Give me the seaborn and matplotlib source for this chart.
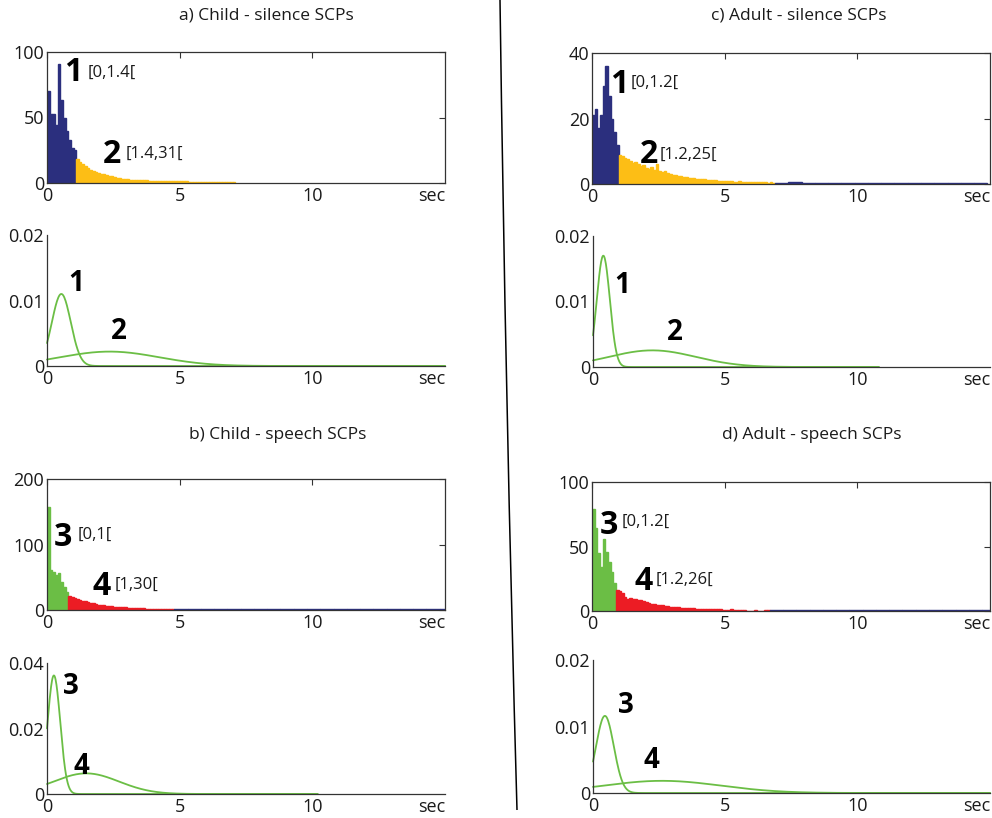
import numpy as np
import pandas as pd
import matplotlib.pyplot as plt
from matplotlib.path import Path
from matplotlib.patches import PathPatch
from matplotlib.ticker import FuncFormatter
import seaborn as sns

sns.set_style('white')
plt.rcParams['font.family'] = ['Open Sans', 'DejaVu Sans']

# === histogram data (counts per 0.1 s bin, tails per 0.5 s bin) ===
BIN = 0.1
TAIL_BIN = 0.5

# a) child silence
a_short = [70, 53, 53, 44, 91, 63, 50, 40, 33, 27, 25]           # 0 .. 1.1
a_long = [18, 16, 14.5, 13, 11.5, 10, 9, 8.5, 7.5, 7,             # 1.1 ..
          6.5, 6, 5.5, 5, 4.5, 4, 3.7, 3.4, 3.1, 2.8,
          2.6, 2.5, 2.4, 2.3, 2.2, 2.1, 2, 1.9, 1.9, 1.8,
          1.7, 1.7, 1.6, 1.6, 1.5, 1.5, 1.4, 1.4, 1.3, 1.3,
          1.2, 1.2, 1.1, 1.1, 1, 1, 1, 0.9, 0.9, 0.8,
          0.8, 0.8, 0.7, 0.7, 0.7, 0.6, 0.6, 0.6, 0.5, 0.5]
a_tail = []

# c) adult silence
c_short = [21, 23, 17, 21, 30, 36, 27, 20, 16, 12]               # 0 .. 1.0
c_long = [9, 8.6, 8, 7.6, 7, 6.5, 6.8, 6, 5.6, 5.8,               # 1.0 ..
          5, 4.6, 5.2, 4.3, 6.0, 4, 3.7, 3.9, 3.4, 3.1,
          2.7, 2.6, 2.5, 2.3, 2.1, 2.0, 1.9, 1.8, 1.7, 1.6,
          1.5, 1.5, 1.4, 1.3, 1.2, 1.1, 1.1, 1.0, 0.9, 0.9,
          0.8, 0.8, 0.9, 0.7, 0.7, 0.8, 0.6, 0.6, 0.7, 0.6,
          0.6, 0.5, 0.6, 0.5, 0.5, 0.6, 0.4, 0.5, 0.4]
c_tail = [0.3, 0.5, 0.4, 0.3, 0.3, 0.2, 0.3, 0.2,                # 6.9 ..
          0.2, 0.2, 0.3, 0.2, 0.2, 0.2, 0.2, 0.2]

# b) child speech
b_short = [158, 61, 58, 53, 57, 42, 35, 28]                      # 0 .. 0.8
b_long = [22, 20, 19, 17, 15, 14, 13, 12, 11, 10,                 # 0.8 ..
          9, 8, 7.5, 7, 6.5, 6, 5.5, 5, 4.8, 4.5,
          4.2, 4, 3.8, 3.5, 3.3, 3, 2.8, 2.6, 2.4, 2.2,
          2, 1.9, 1.8, 1.6, 1.5, 1.4, 1.3, 1.2, 1.1, 1]
b_tail = [1.6, 1.8, 1.5, 1.7, 1.5, 1.4, 1.4, 1.4, 1.3, 1.3,      # 4.8 ..
          1.3, 1.3, 1.3, 1.2, 1.2, 1.2, 1.2, 1.2, 1.2, 1.2, 1.2]

# d) adult speech
d_short = [79, 64, 45, 34, 56, 46, 38, 30, 22]                   # 0 .. 0.9
d_long = [16, 15.5, 14, 11, 9.5, 10, 9, 9.2, 8.6, 8.3,            # 0.9 ..
          7.5, 7, 6.5, 5.8, 5.5, 5, 4.6, 4.4, 4, 3.7,
          3.4, 3.2, 3, 2.8, 2.7, 2.5, 2.4, 2.3, 2.2, 2,
          1.9, 1.8, 1.8, 1.7, 1.6, 1.5, 1.4, 1.3, 1.3, 1.2,
          1.1, 1, 0.8, 1.2, 0.6, 0.9, 0.5, 0.4, 0.8, 0.3,
          0.3, 0.2, 0.8, 0.2, 0.2, 0.3, 0.7, 0.8]
d_tail = [0.6, 0.6, 0.5, 0.5, 0.5, 0.5, 0.5, 0.5, 0.5,            # 6.7 ..
          0.5, 0.5, 0.5, 0.5, 0.5, 0.5, 0.5, 0.5]

# === fitted gaussians: peak height, mean (s), sd (s) ===
a_peak, a_mean, a_sd, a_xmax = [0.011, 0.0022], [0.54, 2.36], [0.357, 1.87], 15
c_peak, c_mean, c_sd, c_xmax = [0.0170, 0.00254], [0.39, 2.24], [0.246, 1.65], 10.8
b_peak, b_mean, b_sd, b_xmax = [0.0362, 0.0063], [0.26, 1.48], [0.239, 1.23], 10.2
d_peak, d_mean, d_sd, d_xmax = [0.0116, 0.00183], [0.45, 2.61], [0.336, 2.22], 15

NAVY = '#2b2f7e'
YELLOW = '#fdbe15'
GREEN = '#6bbe45'
RED = '#ec1c24'
SPINE = '#333333'
FS = 13

fig = plt.figure(figsize=(9.92, 8.18), dpi=100)
W, H = 992, 818


def add_ax(x0, y0, x1, y1):
    return fig.add_axes([x0 / W, 1 - y1 / H, (x1 - x0) / W, (y1 - y0) / H])


def style_ax(ax, yticks, box):
    ax.set_xlim(0, 15)
    ax.set_ylim(yticks[0], yticks[-1])
    ax.set_xticks([0, 5, 10, 15])
    ax.set_xticklabels(['0', '5', '10', 'sec'])
    ax.set_yticks(yticks)
    ax.yaxis.set_major_formatter(FuncFormatter(lambda v, p: '%g' % v))
    ax.set_xlabel('')
    ax.set_ylabel('')
    for s in ax.spines.values():
        s.set_color(SPINE)
        s.set_linewidth(0.9)
    if not box:
        ax.spines['top'].set_visible(False)
        ax.spines['right'].set_visible(False)
    ax.tick_params(direction='in', length=4, width=0.8, color=SPINE,
                   labelsize=FS, labelcolor='#1a1a1a', pad=2,
                   top=box, right=box)
    ax.tick_params(axis='x', pad=3)
    lab = ax.get_xticklabels()[-1]
    lab.set_ha('right')
    t = ax.xaxis.get_major_ticks()[-1]
    t.tick1line.set_visible(False)
    t.tick2line.set_visible(False)


def bars(ax, start, width, heights, color):
    if not heights:
        return
    edges = start + width * np.arange(len(heights) + 1)
    df = pd.DataFrame({'t': (edges[:-1] + edges[1:]) / 2,
                       'n': np.asarray(heights, dtype=float)})
    sns.histplot(data=df, x='t', weights='n', bins=edges.tolist(),
                 color=color, alpha=1, edgecolor=color, linewidth=1.0,
                 ax=ax)


def hist_panel(box, short, long, tail, c_short, c_long, yticks, labels):
    ax = add_ax(*box)
    n1 = len(short)
    bars(ax, 0.0, BIN, short, c_short)
    bars(ax, n1 * BIN, BIN, long, c_long)
    bars(ax, (n1 + len(long)) * BIN, TAIL_BIN, tail, NAVY)
    style_ax(ax, yticks, True)
    for num, nx, ny, interval, ix, iy in labels:
        ax.text(nx, ny, num, fontsize=23, fontweight='bold',
                ha='center', va='center', color='black')
        ax.text(ix, iy, interval, fontsize=12, ha='left', va='center',
                color='#1a1a1a')
    return ax


def gauss_panel(box, peaks, means, sds, xmax, yticks, labels):
    ax = add_ax(*box)
    xs = np.linspace(0, xmax, 600)
    for pk, mu, sd in zip(peaks, means, sds):
        ys = pk * np.exp(-(xs - mu) ** 2 / (2 * sd ** 2))
        sns.lineplot(x=xs, y=ys, color=GREEN, linewidth=1.3, ax=ax)
    for ln in ax.lines:
        ln.set_clip_on(False)
    style_ax(ax, yticks, False)
    for num, nx, ny in labels:
        ax.text(nx, ny, num, fontsize=20, fontweight='bold',
                ha='center', va='center', color='black')
    return ax


# left column: child
hist_panel((47, 52, 445, 183), a_short, a_long, a_tail, NAVY, YELLOW,
           [0, 50, 100],
           [('1', 0.97, 84, '[0,1.4[', 1.52, 84),
            ('2', 2.45, 22, '[1.4,31[', 2.98, 22)])
gauss_panel((47, 235, 445, 366), a_peak, a_mean, a_sd, a_xmax,
            [0, 0.01, 0.02], [('1', 1.1, 0.0126), ('2', 2.72, 0.0052)])
hist_panel((47, 479, 445, 610), b_short, b_long, b_tail, GREEN, RED,
           [0, 100, 200],
           [('3', 0.6, 111, '[0,1[', 1.17, 114),
            ('4', 2.06, 36, '[1,30[', 2.55, 39)])
gauss_panel((47, 663, 445, 794), b_peak, b_mean, b_sd, b_xmax,
            [0, 0.02, 0.04], [('3', 0.89, 0.0329), ('4', 1.3, 0.0085)])

# right column: adult
hist_panel((592, 53, 990, 184), c_short, c_long, c_tail, NAVY, YELLOW,
           [0, 20, 40],
           [('1', 1.04, 30.3, '[0,1.2[', 1.44, 30.8),
            ('2', 2.13, 9, '[1.2,25[', 2.56, 9)])
gauss_panel((593, 236, 990, 367), c_peak, c_mean, c_sd, c_xmax,
            [0, 0.01, 0.02], [('1', 1.1, 0.0125), ('2', 3.1, 0.0053)])
hist_panel((592, 482, 990, 611), d_short, d_long, d_tail, GREEN, RED,
           [0, 50, 100],
           [('3', 0.63, 66, '[0,1.2[', 1.12, 69),
            ('4', 1.94, 22.5, '[1.2,26[', 2.41, 24)])
gauss_panel((593, 660, 990, 793), d_peak, d_mean, d_sd, d_xmax,
            [0, 0.01, 0.02], [('3', 1.23, 0.0131), ('4', 2.2, 0.0049)])

# panel titles
for txt, tx, ty in [('a) Child - silence SCPs', 266, 15),
                    ('b) Child - speech SCPs', 278, 435),
                    ('c) Adult - silence SCPs', 799, 15),
                    ('d) Adult - speech SCPs', 812, 435)]:
    fig.text(tx / W, 1 - ty / H, txt, ha='center', va='center',
             fontsize=12.5, color='#1a1a1a')

# curved separator between the two columns
verts = [(500 / W, 1.0), (505.5 / W, 1 - 405 / H), (517 / W, 1 - 810 / H)]
sep = PathPatch(Path(verts, [Path.MOVETO, Path.CURVE3, Path.CURVE3]),
                transform=fig.transFigure, fill=False, edgecolor='black',
                linewidth=1.1)
fig.add_artist(sep)

fig.savefig('out.png', dpi=100)
